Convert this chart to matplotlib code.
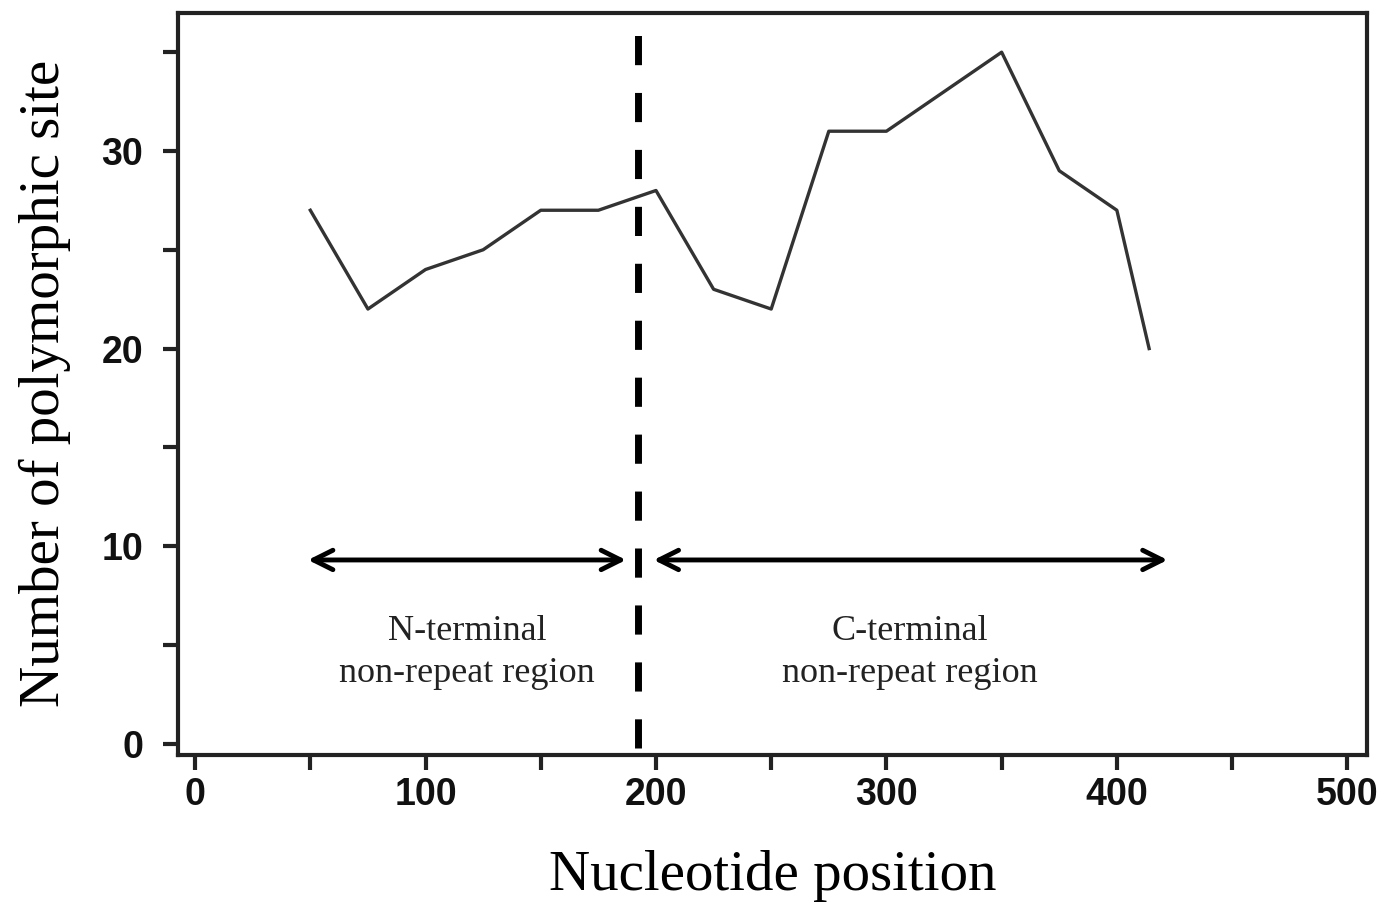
import matplotlib
matplotlib.use("Agg")
import matplotlib.pyplot as plt
from matplotlib.ticker import MultipleLocator

# sliding-window counts of polymorphic sites
positions = [50, 75, 100, 125, 150, 175, 200, 225, 250, 275, 300, 325, 350, 375, 400, 414]
sites = [27, 22, 24, 25, 27, 27, 28, 23, 22, 31, 31, 33, 35, 29, 27, 20]

boundary = 192
n_span = (49, 187)
c_span = (199, 422)
arrow_y = 9.3
n_label = "N-terminal\nnon-repeat region"
c_label = "C-terminal\nnon-repeat region"

serif = ["Liberation Serif", "DejaVu Serif"]
tickfont = ["Liberation Sans Narrow", "Liberation Sans", "DejaVu Sans"]

fig = plt.figure(figsize=(13.91, 9.05), dpi=100)
ax = fig.add_axes([0.128, 0.166, 0.855, 0.820])

ax.plot(positions, sites, color="#333333", lw=2.4)
ax.plot([boundary, boundary], [-0.2, 36.1], color="black", lw=5, dashes=(4.2, 4))

for x0, x1 in (n_span, c_span):
    ax.annotate("", xy=(x0, arrow_y), xytext=(x1, arrow_y),
                arrowprops=dict(arrowstyle="<->", lw=3.5, color="black",
                                mutation_scale=35, shrinkA=0, shrinkB=0))

ax.text(118, 4.6, n_label, ha="center", va="center",
        fontsize=26, family=serif, color="#222222", linespacing=1.35)
ax.text(310, 4.6, c_label, ha="center", va="center",
        fontsize=26, family=serif, color="#222222", linespacing=1.35)

ax.set_xlim(-7.4, 508.7)
ax.set_ylim(-0.56, 37.0)
ax.xaxis.set_major_locator(MultipleLocator(100))
ax.xaxis.set_minor_locator(MultipleLocator(50))
ax.yaxis.set_major_locator(MultipleLocator(10))
ax.yaxis.set_minor_locator(MultipleLocator(5))
ax.tick_params(which="both", direction="out", length=11, width=3, color="#222222")
ax.tick_params(axis="x", pad=5)
ax.tick_params(axis="y", pad=14)
for lab in ax.get_xticklabels() + ax.get_yticklabels():
    lab.set_family(tickfont)
    lab.set_fontweight("bold")
    lab.set_fontsize(27)
    lab.set_color("#111111")

for s in ax.spines.values():
    s.set_linewidth(3)
    s.set_color("#222222")

ax.set_xlabel("Nucleotide position", family=serif, fontsize=41, labelpad=27)
ax.set_ylabel("Number of polymorphic site", family=serif, fontsize=41, labelpad=22)

fig.savefig("out.png", dpi=100)
